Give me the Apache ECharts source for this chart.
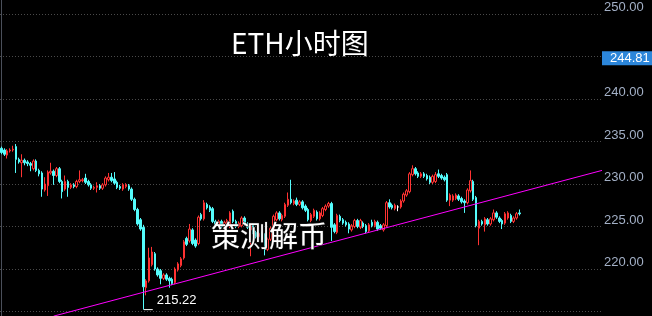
<!DOCTYPE html>
<html>
<head>
<meta charset="utf-8">
<title>ETH小时图</title>
<script src="https://cdn.jsdelivr.net/npm/echarts@6/dist/echarts.min.js"></script>
<style>
  html, body { margin: 0; padding: 0; background: #000; }
  #chart { width: 652px; height: 316px; }
</style>
</head>
<body>
<div id="chart"></div>
<script>
/* ETH hourly candles, red hollow = up, cyan = down. */

// one entry per hourly candle
const opens = [
  234.2, 234.0, 233.4, 233.9, 234.0, 234.4, 232.9, 232.5, 232.8, 232.6,
  232.4, 231.8, 232.7, 231.6, 231.3, 229.3, 229.8, 231.3, 231.5, 231.0,
  231.8, 230.3, 229.4, 230.3, 229.6, 229.9, 229.7, 230.3, 230.4, 230.7,
  230.3, 229.9, 229.5, 229.6, 229.8, 229.5, 229.9, 230.5, 230.8, 230.6,
  230.2, 229.7, 229.4, 229.7, 229.8, 229.4, 228.2, 227.0, 225.8, 224.9,
  217.8, 218.6, 220.5, 221.8, 220.0, 219.8, 218.9, 219.3, 218.9, 218.8,
  218.4, 219.9, 220.4, 221.3, 223.6, 223.3, 224.6, 223.4, 223.0, 226.4,
  225.9, 227.6, 227.3, 227.1, 225.6, 225.2, 225.6, 225.0, 225.4, 225.0,
  226.8, 225.6, 225.0, 225.1, 226.0, 225.3, 224.6, 225.2, 224.3, 223.8,
  224.2, 224.0, 222.3, 223.5, 224.6, 225.8, 226.6, 225.8, 226.2, 227.5,
  228.2, 227.7, 228.1, 227.6, 227.9, 227.4, 227.0, 225.7, 226.2, 226.7,
  225.9, 226.3, 227.0, 227.4, 227.7, 225.2, 224.3, 226.2, 225.8, 225.5,
  225.3, 224.6, 225.0, 225.7, 224.9, 225.4, 225.1, 224.5, 225.5, 225.1,
  225.5, 225.1, 224.6, 225.1, 227.8, 227.5, 227.1, 227.3, 227.3, 228.0,
  228.7, 229.1, 231.1, 231.8, 231.3, 230.9, 231.2, 231.0, 230.8, 230.2,
  230.3, 231.2, 231.0, 230.8, 231.1, 228.1, 228.1, 228.3, 228.6, 228.3,
  228.0, 227.8, 229.2, 230.3, 228.4, 224.8, 225.6, 225.2, 225.8, 225.3,
  225.8, 226.6, 226.0, 225.7, 225.4, 226.0, 226.3, 225.6, 226.0, 226.6
];
const closes = [
  233.7, 233.5, 233.9, 234.0, 234.1, 232.9, 232.6, 232.8, 232.5, 232.4,
  232.2, 232.7, 231.6, 231.2, 229.4, 230.0, 231.4, 231.5, 231.0, 231.8,
  230.3, 229.1, 230.3, 229.6, 229.9, 229.7, 230.3, 230.5, 230.5, 230.2,
  229.9, 229.5, 229.6, 229.8, 229.5, 229.9, 230.7, 230.8, 230.4, 230.1,
  229.6, 229.5, 229.9, 229.9, 229.4, 228.2, 227.0, 225.3, 224.7, 217.9,
  218.6, 221.3, 222.0, 220.0, 219.3, 218.9, 219.3, 218.8, 218.6, 218.3,
  220.0, 220.6, 221.2, 223.2, 222.9, 224.7, 223.0, 222.7, 226.1, 225.9,
  227.8, 227.2, 226.9, 225.6, 225.2, 225.6, 225.0, 225.5, 225.7, 226.6,
  225.6, 225.0, 225.4, 226.0, 225.3, 224.9, 225.2, 224.3, 223.8, 224.2,
  223.6, 222.3, 223.5, 224.8, 226.2, 226.6, 225.9, 226.3, 227.6, 228.2,
  227.8, 228.0, 227.6, 227.9, 227.2, 226.9, 225.8, 226.4, 226.9, 225.9,
  226.6, 227.1, 227.4, 227.7, 224.9, 224.4, 226.3, 225.7, 225.4, 225.2,
  224.7, 225.1, 225.7, 225.0, 225.7, 225.0, 224.4, 225.2, 225.1, 225.6,
  224.7, 224.8, 225.2, 227.8, 227.3, 227.2, 227.5, 227.3, 228.0, 228.8,
  229.2, 231.2, 231.8, 231.2, 230.9, 231.2, 230.9, 230.6, 230.2, 230.9,
  231.1, 230.9, 230.7, 230.5, 228.1, 228.7, 228.6, 228.7, 228.2, 227.9,
  227.8, 229.3, 230.4, 228.2, 225.1, 225.6, 225.3, 225.9, 225.3, 225.9,
  226.6, 226.1, 225.6, 225.3, 226.5, 226.6, 225.6, 226.0, 226.5, 226.5
];
const lows = [
  233.5, 233.3, 233.0, 233.7, 233.8, 231.3, 232.4, 230.8, 232.2, 232.1,
  231.5, 231.6, 231.4, 230.9, 228.5, 229.1, 228.6, 231.1, 229.9, 230.8,
  230.1, 228.3, 229.2, 228.5, 229.4, 229.5, 229.5, 230.1, 230.2, 230.0,
  229.7, 229.3, 229.3, 229.0, 229.3, 229.3, 229.7, 230.3, 230.2, 229.9,
  229.4, 229.3, 229.2, 229.5, 229.2, 228.0, 226.8, 225.1, 224.5, 215.22,
  216.9, 218.4, 220.3, 219.8, 219.1, 218.2, 218.7, 218.6, 217.8, 218.1,
  218.2, 219.7, 220.2, 221.1, 222.7, 223.1, 222.8, 222.5, 222.8, 225.7,
  225.7, 227.0, 226.7, 225.4, 225.0, 225.0, 224.8, 224.8, 225.2, 224.8,
  225.4, 224.8, 224.8, 224.9, 225.1, 224.7, 221.5, 224.1, 223.6, 223.6,
  223.4, 221.6, 222.1, 223.3, 224.4, 225.6, 225.7, 225.6, 226.0, 227.3,
  227.6, 227.5, 227.4, 227.4, 227.0, 226.7, 225.6, 225.5, 226.0, 225.7,
  225.7, 226.1, 226.8, 227.2, 223.3, 224.2, 224.1, 225.5, 225.2, 225.0,
  224.2, 224.4, 224.8, 224.8, 224.7, 224.8, 224.2, 224.3, 224.9, 224.9,
  224.5, 224.6, 224.4, 224.9, 227.1, 227.0, 226.9, 226.8, 227.1, 227.8,
  228.5, 228.9, 230.9, 231.0, 230.7, 230.7, 230.7, 230.4, 230.0, 230.0,
  230.1, 230.7, 230.5, 230.3, 227.9, 227.4, 227.9, 228.1, 228.0, 227.7,
  226.6, 227.6, 229.0, 228.0, 224.9, 222.8, 225.1, 224.4, 225.1, 225.1,
  225.6, 225.9, 225.4, 224.7, 225.2, 225.8, 225.4, 225.4, 225.8, 226.3
];
const highs = [
  234.4, 234.2, 234.1, 234.2, 234.5, 234.7, 233.1, 233.5, 233.0, 232.8,
  232.6, 232.9, 232.9, 231.8, 231.5, 230.8, 231.6, 232.5, 231.7, 232.0,
  232.0, 230.5, 231.0, 230.5, 230.1, 230.1, 230.5, 231.6, 230.7, 231.2,
  230.5, 230.1, 229.8, 230.2, 230.0, 230.1, 230.9, 231.3, 231.3, 231.4,
  230.4, 229.9, 230.1, 230.1, 230.0, 229.6, 228.4, 227.2, 226.0, 225.2,
  218.8, 222.5, 222.6, 222.0, 220.2, 220.0, 219.5, 219.5, 219.1, 219.0,
  220.2, 220.8, 221.4, 223.4, 223.8, 225.3, 224.8, 223.6, 226.3, 226.6,
  228.1, 227.8, 227.5, 227.3, 225.8, 225.8, 225.8, 225.7, 225.9, 226.8,
  227.0, 225.8, 225.6, 226.2, 226.2, 225.5, 225.4, 225.4, 224.5, 224.4,
  224.4, 224.2, 223.7, 225.0, 226.4, 226.8, 226.8, 226.5, 227.8, 229.0,
  230.5, 228.2, 228.4, 228.1, 228.1, 227.6, 227.2, 226.6, 227.1, 226.9,
  226.8, 227.3, 227.6, 227.9, 227.9, 225.4, 226.5, 226.4, 226.0, 225.7,
  225.5, 225.3, 225.9, 225.9, 225.9, 225.6, 225.3, 225.4, 225.8, 225.8,
  225.7, 225.3, 225.4, 228.0, 228.2, 227.7, 227.7, 227.5, 228.2, 229.0,
  229.4, 231.4, 232.2, 232.0, 231.5, 231.4, 231.4, 231.2, 231.0, 231.1,
  231.4, 231.7, 231.2, 231.0, 231.3, 228.9, 228.8, 228.9, 228.8, 228.5,
  228.2, 229.5, 231.6, 230.5, 228.6, 225.8, 225.8, 226.1, 226.0, 226.1,
  227.0, 226.8, 226.2, 225.9, 226.7, 226.8, 226.5, 226.2, 226.7, 227.0
];

const slotCount = 208;            // candles plus empty future slots on the right
const priceMin = 214.47;          // bottom edge of the picture
const priceMax = 251.65;          // top edge of the picture
const lowestLabel = 220;          // lowest price label printed on the axis
const lowMark = 215.22;
const lastPrice = 244.81;
const trendX = [18, 207.5];       // candle index
const trendY = [214.45, 231.6];   // price

const hours = [];
for (let i = 0; i < slotCount; i++) hours.push(String(i));

const candles = opens.map((o, i) => {
  const v = [o, closes[i], lows[i], highs[i]];
  if (o === closes[i]) {
    return { value: v, itemStyle: { color: "#ffffff", borderColor: "#ffffff" } };
  }
  return v;
});
const lowIndex = lows.indexOf(lowMark);

const chart = echarts.init(document.getElementById("chart"), null, { renderer: "canvas" });

chart.setOption({
  backgroundColor: "#000000",
  animation: false,
  title: [
    {
      text: "ETH小时图",
      left: 231, top: 29, padding: 0,
      textStyle: { color: "#ffffff", fontSize: 28, fontWeight: "normal", fontFamily: "Noto Sans CJK SC" },
    },
    {
      text: "策测解币",
      left: 211, top: 221, padding: 0,
      textStyle: {
        color: "#ffffff", fontSize: 29, fontWeight: "normal", fontFamily: "Noto Sans CJK SC",
        textBorderColor: "#222", textBorderWidth: 1,
      },
    },
  ],
  grid: { left: 0, right: 50, top: 0, bottom: 0, containLabel: false },
  xAxis: [
    { type: "category", data: hours, show: false, boundaryGap: true },
    { type: "value", min: -0.5, max: slotCount - 0.5, show: false },
  ],
  yAxis: {
    type: "value",
    position: "right",
    min: priceMin, max: priceMax,
    minInterval: 5, maxInterval: 5,
    axisLine: { show: true, lineStyle: { color: "#4a4f5a", width: 1 } },
    axisTick: { show: false },
    splitLine: {
      showMinLine: false, showMaxLine: false,
      lineStyle: { color: "#4a4a4a", type: [1, 2], width: 1 },
    },
    axisLabel: {
      color: "#a3b0c6", fontSize: 13, fontFamily: "Liberation Sans",
      margin: 2, verticalAlign: "bottom",
      showMinLabel: false, showMaxLabel: false,
      // the last-price box hides the label it sits on
      formatter: (v) => (v < lowestLabel || Math.abs(v - lastPrice) < 2 ? "" : v.toFixed(2)),
    },
  },
  series: [
    {
      type: "candlestick",
      data: candles,
      barWidth: 2,
      itemStyle: {
        color: "transparent", color0: "#54fcfc",
        borderColor: "#ff3232", borderColor0: "#54fcfc", borderWidth: 1,
      },
      markPoint: {
        symbol: "rect", symbolSize: [9, 1], symbolOffset: [5, 0],
        itemStyle: { color: "#ffffff" },
        label: {
          show: true, position: "right", distance: 4, offset: [0, -9],
          color: "#ffffff", fontSize: 13, fontFamily: "Liberation Sans",
          formatter: () => lowMark.toFixed(2),
        },
        data: [{ coord: [lowIndex, lowMark] }],
      },
      markLine: {
        silent: true, symbol: "none",
        lineStyle: { color: "transparent", width: 0 },
        label: {
          show: true, position: "end", distance: 0,
          backgroundColor: "#2c86da", color: "#ffffff",
          fontSize: 13, fontFamily: "Liberation Sans",
          padding: [1, 5, 0, 8],
          formatter: () => lastPrice.toFixed(2),
        },
        data: [{ yAxis: lastPrice }],
      },
    },
    {
      type: "line",
      xAxisIndex: 1,
      data: trendX.map((x, i) => [x, trendY[i]]),
      symbol: "none",
      clip: false,
      lineStyle: { color: "#ff00ff", width: 1 },
    },
  ],
});
</script>
</body>
</html>
